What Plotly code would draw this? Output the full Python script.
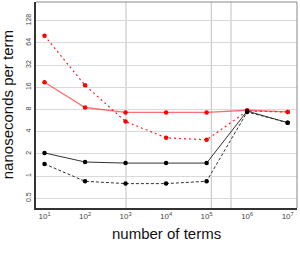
import plotly.graph_objects as go

terms = [1e1, 1e2, 1e3, 1e4, 1e5, 1e6, 1e7]
red_solid = [18.7, 8.5, 7.3, 7.3, 7.3, 7.8, 7.4]
red_dotted = [80, 17, 5.5, 3.3, 3.1, 7.6, 7.4]
black_solid = [2.06, 1.55, 1.5, 1.5, 1.5, 7.6, 5.3]
black_dashed = [1.46, 0.85, 0.79, 0.79, 0.85, 7.4, 5.3]

y_ticks = [0.5, 1, 2, 4, 8, 16, 32, 64, 128]
y_ticktext = ["0.5", "1", "2", "4", "8", "16", "32", "64", "128"]
x_ticks = [1e1, 1e2, 1e3, 1e4, 1e5, 1e6, 1e7]
x_ticktext = ["10<sup>%d</sup>" % i for i in range(1, 8)]
cache_marks = [1024, 131072, 400000]

fig = go.Figure()

series = [
    (red_solid, dict(color="rgba(255,50,50,0.7)", width=1.3, dash="solid"), "#ff0000"),
    (red_dotted, dict(color="#ff2020", width=1.2, dash="2px,3px"), "#ff0000"),
    (black_solid, dict(color="#333333", width=1, dash="solid"), "#000000"),
    (black_dashed, dict(color="#333333", width=1, dash="3px,2px"), "#000000"),
]
for ys, line, mc in series:
    fig.add_trace(go.Scatter(x=terms, y=ys, mode="lines+markers", line=line,
                             marker=dict(color=mc, size=4.5), showlegend=False))

for v in cache_marks:
    fig.add_shape(type="line", xref="x", yref="paper", x0=v, x1=v, y0=0, y1=1,
                  line=dict(color="#cccccc", width=1.2), layer="below")

# top/right grey border
fig.add_shape(type="line", xref="paper", yref="paper", x0=0, x1=1, y0=1, y1=1,
              line=dict(color="#888888", width=1))
fig.add_shape(type="line", xref="paper", yref="paper", x0=1, x1=1, y0=0, y1=1,
              line=dict(color="#888888", width=1))

fig.add_annotation(text="number of terms", xref="paper", yref="paper", x=0.5, y=-0.075,
                   xanchor="center", yanchor="top", showarrow=False,
                   font=dict(size=15, color="#111111"))
fig.add_annotation(text="nanoseconds per term", xref="paper", yref="paper", x=-0.07, y=0.5,
                   xanchor="right", yanchor="middle", textangle=-90, showarrow=False,
                   font=dict(size=15, color="#111111"))

fig.update_layout(
    width=300, height=257,
    margin=dict(l=36, r=3, t=2, b=49),
    paper_bgcolor="white", plot_bgcolor="white",
    font=dict(family="Liberation Sans", color="#111111"),
    xaxis=dict(type="log", range=[0.79, 7.23], tickvals=x_ticks, ticktext=x_ticktext,
               showgrid=False, zeroline=False, showline=True, linecolor="#333333",
               linewidth=1.5, tickfont=dict(size=8, color="#444444"), ticks="",
               automargin=False),
    yaxis=dict(type="log", range=[-0.433, 2.36], tickvals=y_ticks, ticktext=y_ticktext,
               showgrid=True, gridcolor="#d9d9d9", gridwidth=1.3, zeroline=False,
               showline=True, linecolor="#333333", linewidth=1.5, tickangle=-90,
               tickfont=dict(size=7, color="#444444"), ticks="", automargin=False),
)

fig.write_html("out.html", config={"displayModeBar": False},
               post_script="document.body.style.margin='0';")
